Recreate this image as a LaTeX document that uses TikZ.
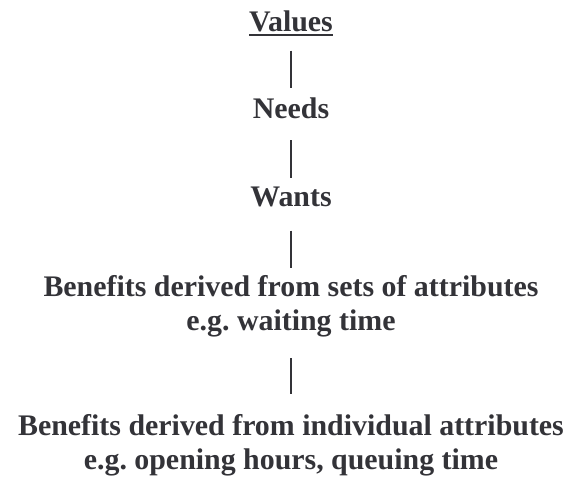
\documentclass[tikz,border=0pt]{standalone}
\usepackage{fontspec}
\setmainfont{Liberation Serif}
\definecolor{ink}{HTML}{333338}
\frenchspacing
\begin{document}
\begin{tikzpicture}[x=1bp,y=-1bp,
  lbl/.style={font=\fontsize{30}{34}\selectfont\bfseries, text=ink, inner sep=0pt, align=center},
  conn/.style={draw=ink, line width=1.3bp}]
\useasboundingbox (0,0) rectangle (571,484);
\node[lbl, anchor=base] (values) at (291,32) {Values};
\node[lbl, anchor=base] (needs) at (291,119) {Needs};
\node[lbl, anchor=base] (wants) at (291,207) {Wants};
\node[lbl, anchor=base] (sets) at (291,330) {Benefits derived from sets of attributes\\e.g. waiting time};
\node[lbl, anchor=base] (indiv) at (291,469) {Benefits derived from individual attributes\\e.g. opening hours, queuing time};
\draw[draw=ink, line width=2.4bp] ([yshift=-2.8bp]values.base west) -- ([yshift=-2.8bp]values.base east);
\draw[conn, shorten <=18bp, shorten >=10.5bp] (values) -- (needs);
\draw[conn, shorten <=21bp, shorten >=9.5bp] (needs) -- (wants);
\draw[conn, shorten <=23bp, shorten >=7bp] (wants) -- (sets);
\draw[conn, shorten <=21.5bp, shorten >=20bp] (sets) -- (indiv);
\end{tikzpicture}
\end{document}
